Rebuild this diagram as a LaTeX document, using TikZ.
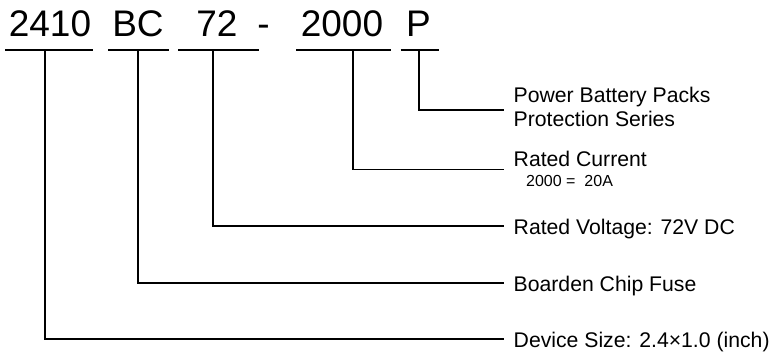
\documentclass[tikz,border=0pt]{standalone}
\usepackage{fontspec}
\setmainfont{Liberation Sans}
\begin{document}
\begin{tikzpicture}[x=1pt,y=-1pt,
  code/.style={font=\fontsize{37}{40}\selectfont, inner sep=0pt, anchor=base},
  lbl/.style={font=\fontsize{21.2}{24}\selectfont, inner sep=0pt, anchor=base west},
  sub/.style={font=\fontsize{16}{18}\selectfont, inner sep=0pt, anchor=base west},
  ln/.style={line width=1.6pt}]
\useasboundingbox (0,0) rectangle (772,352);
% code characters
\node[code] (c1) at (50,36.5) {2410};
\node[code] (c2) at (138,36.5) {BC};
\node[code] (c3) at (217,36.5) {72};
\node[code] (c4) at (263.5,36.5) {-};
\node[code] (c5) at (342,36.5) {2000};
\node[code] (c6) at (418.5,36.5) {P};
% underlines
\draw[ln] (5,50) -- (93,50);
\draw[ln] (108,50) -- (169,50);
\draw[ln] (178,50) -- (259,50);
\draw[ln] (296,50) -- (391,50);
\draw[ln] (400.5,50) -- (439,50);
% tick coordinates
\coordinate (t1) at (45,50);
\coordinate (t2) at (138,50);
\coordinate (t3) at (213,50);
\coordinate (t5) at (353,50);
\coordinate (t6) at (419,50);
% line ends
\coordinate (e6) at (504,110);
\coordinate (e5) at (504,169.5);
\coordinate (e3) at (504,226);
\coordinate (e2) at (504,283);
\coordinate (e1) at (504,339);
% labels
\node[lbl] (l6a) at (513.5,102.5) {Power Battery Packs};
\node[lbl] (l6b) at (513.5,127) {Protection Series};
\node[lbl] (l5) at (513.5,166.5) {Rated Current};
\node[sub] (l5b) at (526,187) {2000 =\ \ 20A};
\node[lbl] (l3) at (513.5,235) {Rated Voltage: 72V DC};
\node[lbl] (l2) at (513.5,292) {Boarden Chip Fuse};
\node[lbl] (l1) at (513.5,348) {Device Size: 2.4×1.0 (inch)};
% connectors
\draw[ln] (t6) |- (e6);
\draw[ln] (t5) |- (e5);
\draw[ln] (t3) |- (e3);
\draw[ln] (t2) |- (e2);
\draw[ln] (t1) |- (e1);
\end{tikzpicture}
\end{document}
